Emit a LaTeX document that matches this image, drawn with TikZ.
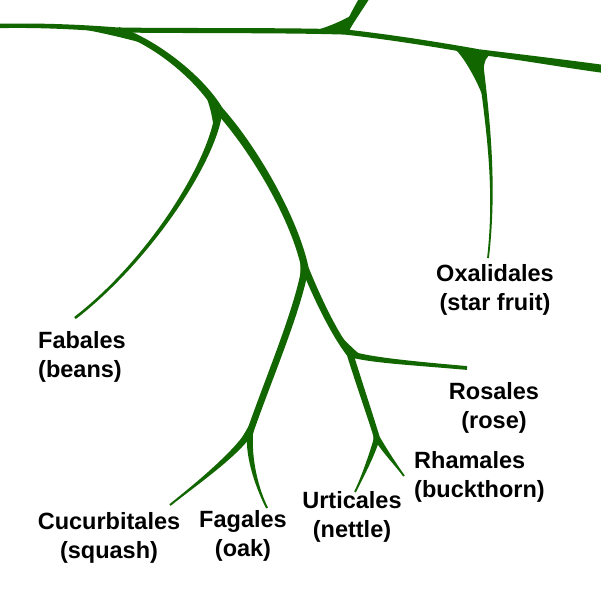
\documentclass[tikz,border=0pt]{standalone}
\usepackage{fontspec}
\setmainfont{Liberation Sans}
\usetikzlibrary{calc}
\definecolor{leaf}{RGB}{18,102,0}
% control points of branch A-B
\newcommand\ctrls[4]{\coordinate (#1-#2-1) at (#3); \coordinate (#1-#2-2) at (#4);}
% tapered branch from A to B, half widths #3 (at A) and #4 (at B)
\newcommand\branchfill[4]{%
  \path ($(#1)!#3!90:(#1-#2-1)$) coordinate (bA) ($(#1)!#3!-90:(#1-#2-1)$) coordinate (bB)
        ($(#2)!#4!-90:(#1-#2-2)$) coordinate (bC) ($(#2)!#4!90:(#1-#2-2)$) coordinate (bD);
  \fill[leaf] (bA) .. controls ($(#1-#2-1)+(bA)-(#1)$) and ($(#1-#2-2)+(bC)-(#2)$) .. (bC)
     -- (bD) .. controls ($(#1-#2-2)+(bD)-(#2)$) and ($(#1-#2-1)+(bB)-(#1)$) .. (bB) -- cycle;}
% point named #1 on branch #2-#3 at time #4
\newcommand\fpt[4]{\path (#2) .. controls (#2-#3-1) and (#2-#3-2) .. (#3) coordinate[pos=#4] (#1);}
% flared junction at #1 between points #2,#3,#4 ; tightness of each side #5,#6,#7
\newcommand\junc[7]{\fill[leaf] (#2) .. controls ($(#2)!#5!(#1)$) and ($(#3)!#5!(#1)$) .. (#3)
   .. controls ($(#3)!#6!(#1)$) and ($(#4)!#6!(#1)$) .. (#4)
   .. controls ($(#4)!#7!(#1)$) and ($(#2)!#7!(#1)$) .. (#2) -- cycle;}
\begin{document}
\begin{tikzpicture}[x=1pt,y=-1pt,
  lab/.style={font=\bfseries\fontsize{23.5}{28.5}\selectfont, inner sep=0pt, text=black}]
\useasboundingbox (0,0) rectangle (601,591);
% junctions and tips
\coordinate (L0) at (-3,26);
\coordinate (J1) at (118,30);
\coordinate (J2) at (345,32);
\coordinate (U)  at (367,-6);
\coordinate (J3) at (479,52);
\coordinate (R)  at (604,69);
\coordinate (Ox) at (488,258);
\coordinate (J4) at (219,110);
\coordinate (F)  at (75,318);
\coordinate (J5) at (305,268);
\coordinate (J7) at (250,432);
\coordinate (C)  at (170,505);
\coordinate (G)  at (267,508);
\coordinate (J6) at (350,354);
\coordinate (Ro) at (467,368);
\coordinate (J8) at (377,438);
\coordinate (Ur) at (355,492);
\coordinate (Rh) at (404,476);
% controls
\ctrls{L0}{J1}{40,25}{80,27}
\ctrls{J1}{J2}{190,31}{280,30}
\ctrls{J2}{U}{350,22}{357,10}
\ctrls{J2}{J3}{390,37}{440,45}
\ctrls{J3}{R}{520,57}{560,63}
\ctrls{J3}{Ox}{486,110}{497,180}
\ctrls{J1}{J4}{155,42}{200,78}
\ctrls{J4}{F}{214,160}{150,260}
\ctrls{J4}{J5}{255,150}{295,220}
\ctrls{J5}{J7}{298,310}{268,380}
\ctrls{J7}{C}{235,455}{195,485}
\ctrls{J7}{G}{248,460}{258,490}
\ctrls{J5}{J6}{318,300}{335,335}
\ctrls{J6}{Ro}{370,360}{410,363}
\ctrls{J6}{J8}{358,380}{370,415}
\ctrls{J8}{Ur}{372,455}{362,478}
\ctrls{J8}{Rh}{384,450}{396,465}
% branches
\branchfill{L0}{J1}{2.2pt}{2.5pt}
\branchfill{J1}{J2}{2.5pt}{2.6pt}
\branchfill{J2}{U}{3pt}{4.5pt}
\branchfill{J2}{J3}{2.6pt}{2.7pt}
\branchfill{J3}{R}{2.7pt}{4pt}
\branchfill{J3}{Ox}{2.8pt}{0.9pt}
\branchfill{J1}{J4}{3.2pt}{4pt}
\branchfill{J4}{F}{3.6pt}{1.3pt}
\branchfill{J4}{J5}{4pt}{3.6pt}
\branchfill{J5}{J7}{3.5pt}{3.3pt}
\branchfill{J7}{C}{3.3pt}{1pt}
\branchfill{J7}{G}{3.1pt}{1pt}
\branchfill{J5}{J6}{3.5pt}{3.3pt}
\branchfill{J6}{Ro}{3pt}{1.9pt}
\branchfill{J6}{J8}{3.3pt}{2.9pt}
\branchfill{J8}{Ur}{2.9pt}{0.9pt}
\branchfill{J8}{Rh}{2.9pt}{0.9pt}
% flared junctions
\fpt{p1}{L0}{J1}{.55}\fpt{a1}{J1}{J4}{.3}\fpt{b1}{J1}{J2}{.12}
\junc{J1}{p1}{a1}{b1}{.3}{.9}{.5}
\fpt{p2}{J1}{J2}{.83}\fpt{a2}{J2}{U}{.6}\fpt{b2}{J2}{J3}{.1}
\junc{J2}{p2}{a2}{b2}{.25}{.85}{.5}
\fpt{p3}{J2}{J3}{.78}\fpt{a3}{J3}{Ox}{.3}\fpt{b3}{J3}{R}{.14}
\junc{J3}{p3}{a3}{b3}{.3}{.75}{.5}
\fpt{p4}{J1}{J4}{.75}\fpt{a4}{J4}{F}{.15}\fpt{b4}{J4}{J5}{.12}
\junc{J4}{p4}{a4}{b4}{.42}{.85}{.5}
\fpt{p5}{J4}{J5}{.85}\fpt{a5}{J5}{J7}{.2}\fpt{b5}{J5}{J6}{.3}
\junc{J5}{p5}{a5}{b5}{.4}{.8}{.55}
\fpt{p6}{J5}{J6}{.6}\fpt{a6}{J6}{J8}{.3}\fpt{b6}{J6}{Ro}{.2}
\junc{J6}{p6}{a6}{b6}{.55}{.8}{.3}
\fpt{p7}{J5}{J7}{.82}\fpt{a7}{J7}{C}{.3}\fpt{b7}{J7}{G}{.3}
\junc{J7}{p7}{a7}{b7}{.35}{.8}{.55}
\fpt{p8}{J6}{J8}{.75}\fpt{a8}{J8}{Ur}{.3}\fpt{b8}{J8}{Rh}{.35}
\junc{J8}{p8}{a8}{b8}{.5}{.8}{.45}
% labels (base = baseline of the last line)
\node[lab, anchor=base, align=center] (oxl) at (495,310) {Oxalidales\\(star fruit)};
\node[lab, anchor=base west, align=left] (fal) at (38,377) {Fabales\\(beans)};
\node[lab, anchor=base, align=center] (rol) at (494,428) {Rosales\\(rose)};
\node[lab, anchor=base west, align=left] (rhl) at (414,497) {Rhamales\\(buckthorn)};
\node[lab, anchor=base, align=center] (url) at (352,537) {Urticales\\(nettle)};
\node[lab, anchor=base, align=center] (fgl) at (243,556) {Fagales\\(oak)};
\node[lab, anchor=base, align=center] (cul) at (109,558) {Cucurbitales\\(squash)};
\end{tikzpicture}
\end{document}
